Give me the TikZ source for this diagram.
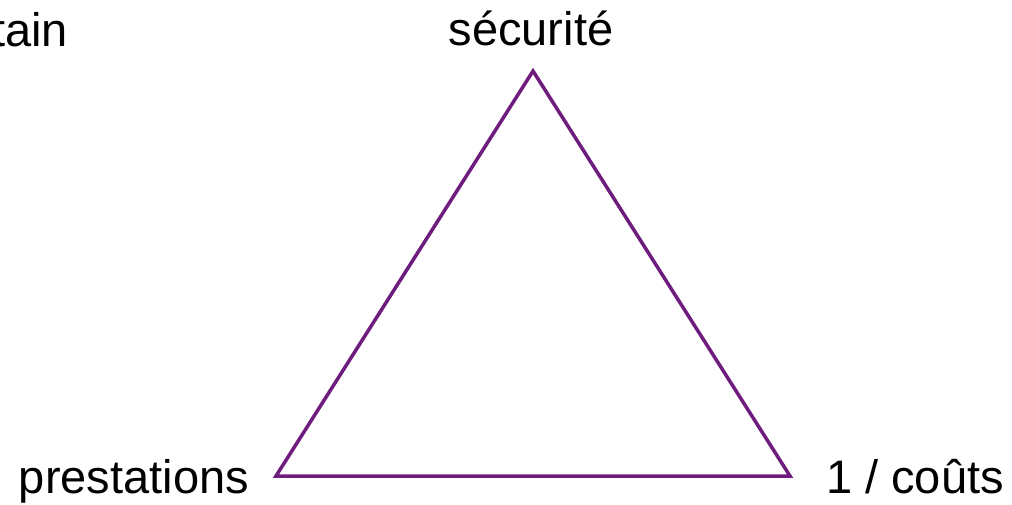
\documentclass[tikz,border=0pt]{standalone}
\usepackage{fontspec}
\setmainfont{Liberation Sans}
\definecolor{tri}{HTML}{6E1C7E}
\begin{document}
\begin{tikzpicture}[x=1pt,y=-1pt,
  lbl/.style={inner sep=0pt,font=\fontsize{47}{56}\selectfont},
  edge/.style={draw=tri,line width=3.5pt,line join=miter}]
\useasboundingbox (0,0) rectangle (1012,504);
\coordinate (top) at (533,71);
\coordinate (bl) at (276,476);
\coordinate (br) at (790,476);
\draw[edge] (top) -- (bl) -- (br) -- cycle;
\node[lbl,anchor=base] (sec) at (531,45) {sécurité};
\node[lbl,anchor=base east] (pre) at (249,493) {prestations};
\node[lbl,anchor=base west] (cou) at (826,493) {1 / coûts};
\node[lbl,anchor=base east] (tain) at (68,46) {tain};
\end{tikzpicture}
\end{document}
